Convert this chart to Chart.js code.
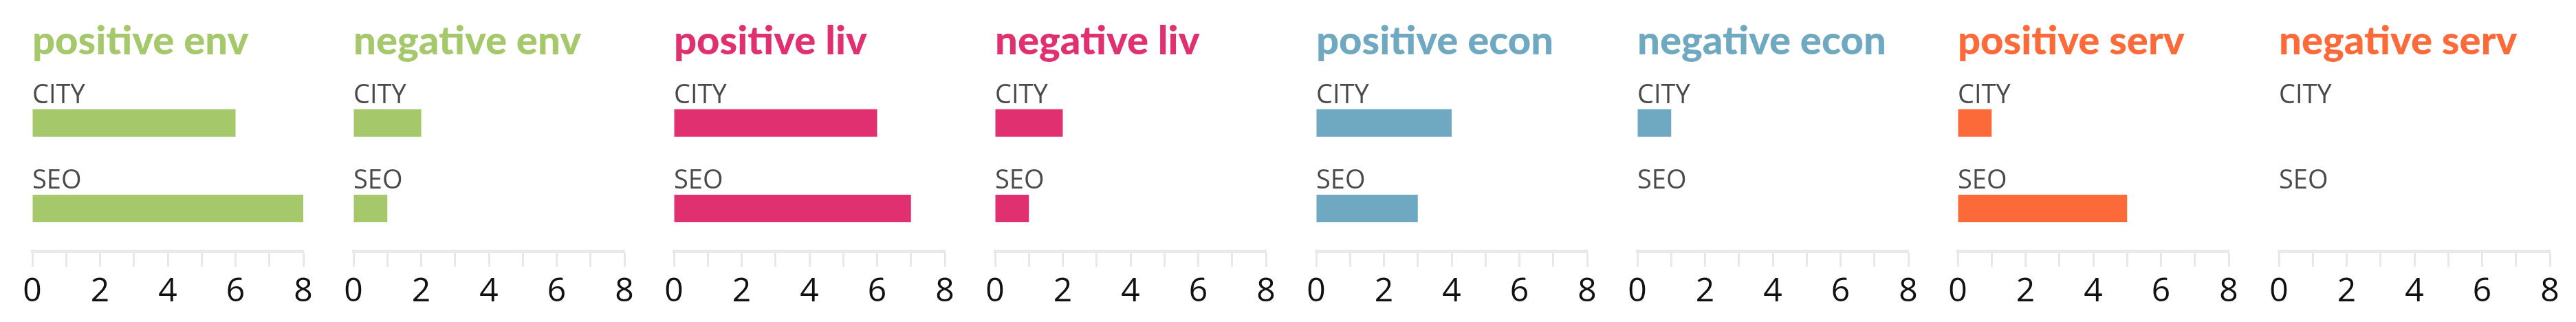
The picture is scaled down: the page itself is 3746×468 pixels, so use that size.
<!DOCTYPE html>
<html>
<head>
<meta charset="utf-8">
<script src="https://cdn.jsdelivr.net/npm/chart.js@4/dist/chart.umd.min.js"></script>
<style>
    html, body { margin: 0; padding: 0; background: #fff; }
    #wrap { position: relative; width: 3746px; height: 468px; overflow: hidden; }
    .panel { position: absolute; top: 0; width: 467px; height: 468px; }
</style>
</head>
<body>
<div id="wrap"></div>
<script>
const categories = ['CITY', 'SEO'];
const panelTitles = [
    'positive env', 'negative env',
    'positive liv', 'negative liv',
    'positive econ', 'negative econ',
    'positive serv', 'negative serv',
];
const cityValues = [6, 2, 6, 2, 4, 1, 1, 0];
const seoValues = [8, 1, 7, 1, 3, 0, 5, 0];
const xTicks = [0, 2, 4, 6, 8];

const COLORS = {
    env: '#a4c86a',
    liv: '#e1306f',
    econ: '#6fa8c1',
    serv: '#fd6a3a',
    axis: '#e8e8e8',
    label: '#4a4a4a',
    tick: '#111111',
};
const panelColors = [COLORS.env, COLORS.env, COLORS.liv, COLORS.liv, COLORS.econ, COLORS.econ, COLORS.serv, COLORS.serv];

const PANEL_PITCH = 466.7;

// category names sit just above each bar, left aligned with the axis origin
const barLabels = {
    id: 'barLabels',
    afterDatasetsDraw(chart) {
        const { ctx, chartArea, scales } = chart;
        ctx.save();
        ctx.font = '38px "Open Sans"';
        ctx.fillStyle = COLORS.label;
        ctx.textAlign = 'left';
        ctx.textBaseline = 'alphabetic';
        chart.data.labels.forEach((label, i) => {
            const y = scales.y.getPixelForValue(i);
            ctx.fillText(label, chartArea.left, y - 29);
        });
        ctx.restore();
    },
};

function createPanel(index) {
    const div = document.createElement('div');
    div.className = 'panel';
    div.style.left = (index * PANEL_PITCH) + 'px';
    const canvas = document.createElement('canvas');
    div.appendChild(canvas);
    document.getElementById('wrap').appendChild(div);

    const color = panelColors[index];
    return new Chart(canvas, {
        type: 'bar',
        data: {
            labels: categories,
            datasets: [{
                data: [cityValues[index], seoValues[index]],
                backgroundColor: color,
                borderWidth: 0,
                inflateAmount: 0, // otherwise zero bars leave a hairline
                barThickness: 40,
            }],
        },
        plugins: [barLabels],
        options: {
            responsive: true,
            maintainAspectRatio: false,
            animation: false,
            indexAxis: 'y',
            layout: { padding: { left: 47, right: 26, top: 0, bottom: 0 } },
            plugins: {
                legend: { display: false },
                tooltip: { enabled: false },
                title: {
                    display: true,
                    text: panelTitles[index],
                    align: 'start',
                    color: color,
                    font: { family: 'Lato', weight: 900, size: 58, lineHeight: 1.2 },
                    padding: { top: 25, bottom: 22 },
                },
            },
            scales: {
                y: { display: false },
                x: {
                    min: 0,
                    max: 8,
                    afterFit(scale) { scale.height = 103; },
                    border: { display: true, color: COLORS.axis, width: 5 },
                    grid: {
                        drawOnChartArea: false,
                        drawTicks: true,
                        tickLength: 23,
                        tickWidth: 3,
                        tickColor: COLORS.axis,
                    },
                    ticks: {
                        stepSize: 1,
                        autoSkip: false,
                        maxRotation: 0,
                        padding: 8,
                        color: COLORS.tick,
                        font: { family: 'Open Sans', size: 48 },
                        callback: (value) => (xTicks.includes(value) ? String(value) : ''),
                    },
                },
            },
        },
    });
}

panelTitles.forEach((_, i) => createPanel(i));
</script>
</body>
</html>
